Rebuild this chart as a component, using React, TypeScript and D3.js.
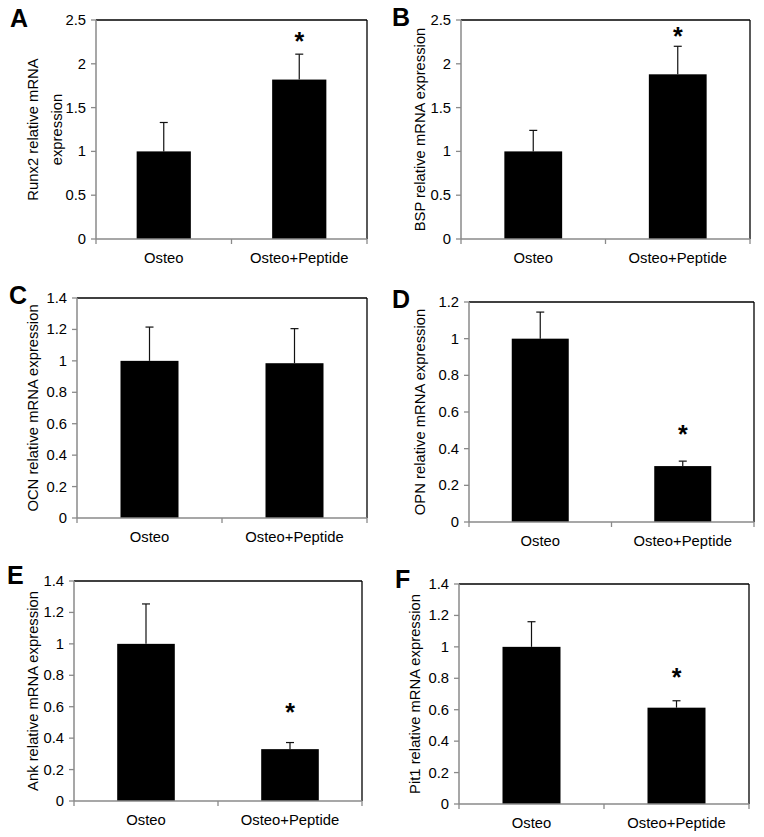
import React from "react";
import * as d3 from "d3";

const categories = ["Osteo", "Osteo+Peptide"];

const panelLetters = ["A", "B", "C", "D", "E", "F"];
const yLabels = [
  ["Runx2 relative mRNA", "expression"],
  ["BSP relative mRNA expression"],
  ["OCN relative mRNA expression"],
  ["OPN relative mRNA expression"],
  ["Ank relative mRNA expression"],
  ["Pit1 relative mRNA expression"],
];

const runx2Mean = [1.0, 1.82];
const runx2Err = [0.33, 0.29];
const bspMean = [1.0, 1.88];
const bspErr = [0.24, 0.32];
const ocnMean = [1.0, 0.985];
const ocnErr = [0.215, 0.22];
const opnMean = [1.0, 0.305];
const opnErr = [0.145, 0.027];
const ankMean = [1.0, 0.33];
const ankErr = [0.254, 0.042];
const pit1Mean = [1.0, 0.613];
const pit1Err = [0.16, 0.044];

// significance star (value level of the asterisk centre), null = no star
const runx2Star = [null, 2.32];
const bspStar = [null, 2.37];
const ocnStar = [null, null];
const opnStar = [null, 0.51];
const ankStar = [null, 0.6];
const pit1Star = [null, 0.84];

const yMaxes = [2.5, 2.5, 1.4, 1.2, 1.4, 1.4];
const yStep = [0.5, 0.5, 0.2, 0.2, 0.2, 0.2];

const means = [runx2Mean, bspMean, ocnMean, opnMean, ankMean, pit1Mean];
const errs = [runx2Err, bspErr, ocnErr, opnErr, ankErr, pit1Err];
const stars = [runx2Star, bspStar, ocnStar, opnStar, ankStar, pit1Star];

// layout (pixel boxes of each plot area)
const layout = [
  { l: 96, r: 367, t: 20, b: 239, labX: 33, letX: 10, letY: 27 },
  { l: 461, r: 750, t: 20, b: 239, labX: 420, letX: 392, letY: 26 },
  { l: 77, r: 367, t: 298, b: 518, labX: 33, letX: 9, letY: 304 },
  { l: 469, r: 754, t: 302, b: 522, labX: 420, letX: 392, letY: 308 },
  { l: 74, r: 362, t: 581, b: 801, labX: 33, letX: 7, letY: 584 },
  { l: 459, r: 749, t: 584, b: 804, labX: 415, letX: 395, letY: 588 },
];

const FONT = "Arial, 'Liberation Sans', Helvetica, sans-serif";
const AXIS = "#8a8a8a";

function Panel({ i }: { i: number }) {
  const L = layout[i];
  const x = d3.scaleBand<string>().domain(categories).range([L.l, L.r]).paddingInner(0).paddingOuter(0);
  const y = d3.scaleLinear().domain([0, yMaxes[i]]).range([L.b, L.t]);
  const ticks = d3.range(0, yMaxes[i] + 1e-9, yStep[i]);
  const bw = x.bandwidth() * 0.4;
  const fmt = (v: number) => String(+v.toFixed(1));
  const labelLines = yLabels[i];
  const midY = (L.t + L.b) / 2;
  return (
    <g>
      <text x={L.letX} y={L.letY} fontFamily={FONT} fontWeight="bold" fontSize={25} fill="#000">
        {panelLetters[i]}
      </text>
      {/* frame top/right */}
      <line x1={L.l} x2={L.r} y1={L.t} y2={L.t} stroke="#000" strokeWidth={1.3} />
      <line x1={L.r} x2={L.r} y1={L.t} y2={L.b} stroke="#000" strokeWidth={1.3} />
      {/* bars */}
      {categories.map((c, j) => {
        const cx = (x(c) as number) + x.bandwidth() / 2;
        const v = means[i][j];
        const top = v + errs[i][j];
        return (
          <g key={c}>
            <rect x={cx - bw / 2} y={y(v)} width={bw} height={y(0) - y(v)} fill="#000" />
            <line x1={cx} x2={cx} y1={y(v)} y2={y(top)} stroke="#111" strokeWidth={1.2} />
            <line x1={cx - 4} x2={cx + 4} y1={y(top)} y2={y(top)} stroke="#111" strokeWidth={1.2} />
            {stars[i][j] != null && (
              <text
                x={cx}
                y={y(stars[i][j] as number) + 14}
                textAnchor="middle"
                fontFamily={FONT}
                fontWeight="bold"
                fontSize={25}
                fill="#000"
              >
                *
              </text>
            )}
            <text x={cx} y={L.b + 24} textAnchor="middle" fontFamily={FONT} fontSize={14.8} fill="#000">
              {c}
            </text>
          </g>
        );
      })}
      {/* y axis */}
      <line x1={L.l} x2={L.l} y1={L.t} y2={L.b} stroke={AXIS} strokeWidth={1.5} />
      {ticks.map((t) => (
        <g key={t}>
          <line x1={L.l - 5} x2={L.l} y1={y(t)} y2={y(t)} stroke={AXIS} strokeWidth={1.3} />
          <text x={L.l - 10} y={y(t) + 5} textAnchor="end" fontFamily={FONT} fontSize={14.8} fill="#000">
            {fmt(t)}
          </text>
        </g>
      ))}
      {/* x axis */}
      <line x1={L.l} x2={L.r} y1={L.b} y2={L.b} stroke={AXIS} strokeWidth={1.5} />
      {[L.l, (L.l + L.r) / 2, L.r].map((px, k) => (
        <line key={k} x1={px} x2={px} y1={L.b} y2={L.b + 5} stroke={AXIS} strokeWidth={1.3} />
      ))}
      {/* y label */}
      {labelLines.map((ln, k) => {
        const off = labelLines.length === 1 ? 0 : (k - (labelLines.length - 1) / 2) * 24;
        const cx = labelLines.length === 1 ? L.labX : L.labX + 12 + off;
        return (
          <text
            key={k}
            transform={`translate(${cx + 5},${midY}) rotate(-90)`}
            textAnchor="middle"
            fontFamily={FONT}
            fontSize={14.8}
            fill="#000"
          >
            {ln}
          </text>
        );
      })}
    </g>
  );
}

export default function App() {
  return (
    <svg
      width={764}
      height={837}
      style={{ position: "absolute", left: 0, top: 0, background: "#fff" }}
    >
      <rect width={764} height={837} fill="#fff" />
      {panelLetters.map((_, i) => (
        <Panel key={i} i={i} />
      ))}
    </svg>
  );
}
